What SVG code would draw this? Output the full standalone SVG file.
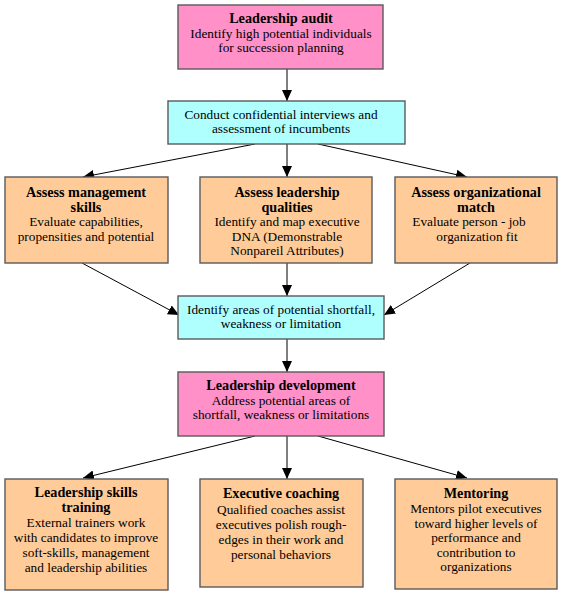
<svg xmlns="http://www.w3.org/2000/svg" width="562" height="594" viewBox="0 0 562 594">
<defs>
<marker id="ah" markerUnits="userSpaceOnUse" markerWidth="12" markerHeight="10" refX="11" refY="5" orient="auto">
<path d="M0,0 L11,5 L0,10 Z" fill="#000"/>
</marker>
<style>
rect{stroke:#5a5a5a;stroke-width:1.4}
.pink{fill:#FF90C8}
.cyan{fill:#B0FFFF}
.orange{fill:#FFCC99}
text{font-family:"Liberation Serif","Times New Roman",serif;font-size:13.3px;fill:#000;text-anchor:middle}
.b{font-weight:bold;font-size:14.2px}
.c line{stroke:#000;stroke-width:1;marker-end:url(#ah)}
</style>
</defs>
<rect width="562" height="594" fill="#fff" style="stroke:none"/>
<g class="c" id="connectors">
<line x1="287" y1="69" x2="287" y2="101"/>
<line x1="255" y1="144" x2="83" y2="177"/>
<line x1="287" y1="144" x2="287" y2="177"/>
<line x1="318" y1="144" x2="467" y2="177"/>
<line x1="82" y1="263" x2="179" y2="315"/>
<line x1="287" y1="263" x2="287" y2="296"/>
<line x1="470" y1="263" x2="384" y2="315"/>
<line x1="287" y1="339" x2="287" y2="372"/>
<line x1="255" y1="436" x2="83" y2="478"/>
<line x1="287" y1="436" x2="287" y2="479"/>
<line x1="318" y1="436" x2="467" y2="478"/>
</g>
<g id="n1">
<rect class="pink" x="178" y="5" width="205" height="64"/>
<text class="b" x="281" y="23">Leadership audit</text>
<text x="281" y="37.5">Identify high potential individuals</text>
<text x="281" y="52">for succession planning</text>
</g>
<g id="n2">
<rect class="cyan" x="168" y="101" width="237" height="43"/>
<text x="281" y="119">Conduct confidential interviews and</text>
<text x="281" y="133">assessment of incumbents</text>
</g>
<g id="n3">
<rect class="orange" x="5" y="177" width="163" height="86"/>
<text class="b" x="86" y="197">Assess management</text>
<text class="b" x="86" y="211.5">skills</text>
<text x="86" y="226">Evaluate capabilities,</text>
<text x="86" y="240.5">propensities and potential</text>
</g>
<g id="n4">
<rect class="orange" x="200" y="177" width="172" height="86"/>
<text class="b" x="287" y="197">Assess leadership</text>
<text class="b" x="287" y="211.5">qualities</text>
<text x="287" y="226">Identify and map executive</text>
<text x="287" y="240.5">DNA (Demonstrable</text>
<text x="287" y="255">Nonpareil Attributes)</text>
</g>
<g id="n5">
<rect class="orange" x="395" y="177" width="162" height="86"/>
<text class="b" x="476" y="197">Assess organizational</text>
<text class="b" x="476" y="211.5">match</text>
<text x="469" y="226">Evaluate person - job</text>
<text x="477" y="240.5">organization fit</text>
</g>
<g id="n6">
<rect class="cyan" x="178" y="296" width="206" height="43"/>
<text x="281" y="313.5">Identify areas of potential shortfall,</text>
<text x="281" y="327.5">weakness or limitation</text>
</g>
<g id="n7">
<rect class="pink" x="178" y="372" width="206" height="64"/>
<text class="b" x="281" y="390">Leadership development</text>
<text x="281" y="404.5">Address potential areas of</text>
<text x="281" y="419">shortfall, weakness or limitations</text>
</g>
<g id="n8">
<rect class="orange" x="5" y="479" width="163" height="111"/>
<text class="b" x="86" y="497">Leadership skills</text>
<text class="b" x="86" y="512">training</text>
<text x="86" y="527">External trainers work</text>
<text x="86" y="542">with candidates to improve</text>
<text x="86" y="557">soft-skills, management</text>
<text x="86" y="572">and leadership abilities</text>
</g>
<g id="n9">
<rect class="orange" x="200" y="479" width="163" height="108"/>
<text class="b" x="281" y="498">Executive coaching</text>
<text x="281" y="514">Qualified coaches assist</text>
<text x="281" y="529">executives polish rough-</text>
<text x="281" y="544">edges in their work and</text>
<text x="281" y="559">personal behaviors</text>
</g>
<g id="n10">
<rect class="orange" x="395" y="479" width="162" height="110"/>
<text class="b" x="476" y="498">Mentoring</text>
<text x="476" y="513">Mentors pilot executives</text>
<text x="476" y="527.5">toward higher levels of</text>
<text x="476" y="542">performance and</text>
<text x="476" y="556.5">contribution to</text>
<text x="476" y="571">organizations</text>
</g>
</svg>
